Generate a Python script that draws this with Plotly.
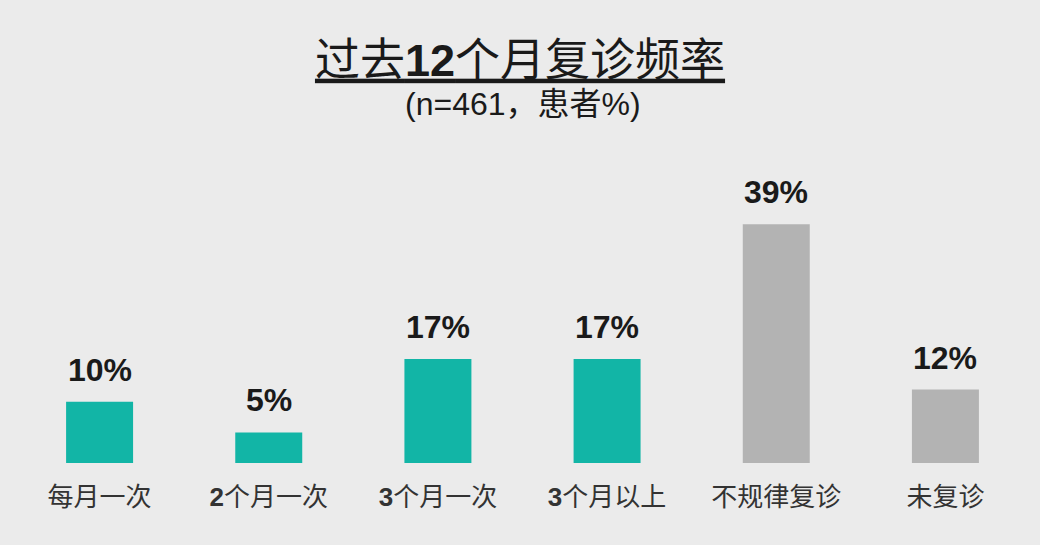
import plotly.graph_objects as go

# 过去12个月复诊频率 (n=461)
categories = ["每月一次", "<b>2</b>个月一次", "<b>3</b>个月一次", "<b>3</b>个月以上", "不规律复诊", "未复诊"]
values = [10, 5, 17, 17, 39, 12]
labels = ["10%", "5%", "17%", "17%", "39%", "12%"]
colors = ["#12b5a6", "#12b5a6", "#12b5a6", "#12b5a6", "#b3b3b3", "#b3b3b3"]

font_fam = "Liberation Sans, Arial, Noto Sans CJK SC"

fig = go.Figure()
fig.add_trace(go.Bar(x=categories, y=values, marker_color=colors, marker_line_width=0))

# value labels above bars
for c, v, t in zip(categories, values, labels):
    fig.add_annotation(x=c, y=v, text="<b>" + t + "</b>", showarrow=False,
                       yanchor="bottom", yshift=12,
                       font=dict(size=32, color="#1a1a1a", family=font_fam))

fig.update_layout(
    width=1040, height=545,
    paper_bgcolor="#ebebeb", plot_bgcolor="#ebebeb",
    margin=dict(l=15, r=10, t=218, b=82),
    bargap=0.604,
    showlegend=False,
    title=dict(text="过去<b>12</b>个月复诊频率", x=0.5, xanchor="center",
               y=0.89, yanchor="middle",
               font=dict(size=45, color="#1a1a1a", family=font_fam, lineposition="under")),
)
fig.add_annotation(text="(n=461，患者%)", xref="paper", yref="paper", x=0.5, y=1,
                   yanchor="middle", yshift=114, showarrow=False,
                   font=dict(size=32, color="#1a1a1a", family=font_fam))
fig.update_xaxes(showgrid=False, showline=False, zeroline=False, ticks="",
                 ticklabelstandoff=16,
                 tickfont=dict(size=26, color="#333333", family=font_fam))
fig.update_yaxes(visible=False, range=[0, 40])

fig.write_html("out.html", config={"displayModeBar": False},
               post_script="document.body.style.margin='0';document.body.style.overflow='hidden';")
